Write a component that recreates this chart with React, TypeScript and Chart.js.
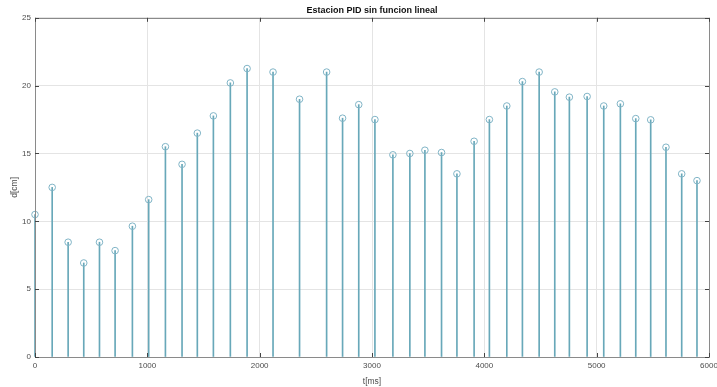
import React, { useEffect, useRef } from "react";
import { Chart, registerables } from "chart.js";

Chart.register(...registerables);

const times = [0, 153, 295, 434, 574, 713, 867, 1012, 1161, 1309, 1445, 1588, 1739, 1888, 2119, 2355, 2596, 2738, 2882, 3026, 3186, 3337, 3471, 3619, 3756, 3909, 4045, 4200, 4339, 4488, 4627, 4757, 4915, 5063, 5211, 5348, 5481, 5617, 5757, 5893];
const distances = [10.5, 12.5, 8.46, 6.93, 8.46, 7.84, 9.64, 11.6, 15.5, 14.2, 16.5, 17.77, 20.2, 21.26, 21.0, 19.0, 21.0, 17.6, 18.6, 17.5, 14.9, 15.0, 15.24, 15.07, 13.5, 15.9, 17.5, 18.5, 20.3, 21.0, 19.54, 19.15, 19.2, 18.5, 18.66, 17.57, 17.48, 15.46, 13.5, 13.0];
const titleText = "Estacion PID sin funcion lineal";
const xLabel = "t[ms]";
const yLabel = "d[cm]";

const framePlugin = {
  id: "frame",
  afterDraw(chart: any) {
    const { ctx, chartArea: a, scales } = chart;
    ctx.save();
    ctx.strokeStyle = "#8a8a8a";
    ctx.lineWidth = 1;
    ctx.strokeRect(Math.round(a.left) + 0.5, Math.round(a.top) + 0.5, Math.round(a.right - a.left), Math.round(a.bottom - a.top));
    ctx.strokeStyle = "#444";
    const tl = 4;
    ctx.beginPath();
    scales.x.ticks.forEach((t: any) => {
      const px = Math.round(scales.x.getPixelForValue(t.value)) + 0.5;
      ctx.moveTo(px, a.bottom);
      ctx.lineTo(px, a.bottom - tl);
      ctx.moveTo(px, a.top);
      ctx.lineTo(px, a.top + tl);
    });
    scales.y.ticks.forEach((t: any) => {
      const py = Math.round(scales.y.getPixelForValue(t.value)) + 0.5;
      ctx.moveTo(a.left, py);
      ctx.lineTo(a.left + tl, py);
      ctx.moveTo(a.right, py);
      ctx.lineTo(a.right - tl, py);
    });
    ctx.stroke();
    ctx.restore();
  },
};

export default function App() {
  const ref = useRef<HTMLCanvasElement | null>(null);
  useEffect(() => {
    document.body.style.margin = "0";
    const pts = times.map((t, i) => ({ x: t, y: distances[i] }));
    const chart = new Chart(ref.current as HTMLCanvasElement, {
      type: "bar",
      data: {
        datasets: [
          {
            type: "bar",
            data: pts,
            backgroundColor: "#68a8b9",
            borderWidth: 0,
            barThickness: 1,
            clip: false,
            order: 2,
          } as any,
          {
            type: "scatter",
            data: pts,
            pointStyle: "circle",
            pointRadius: 3.3,
            pointBorderWidth: 1,
            pointBorderColor: "#80b4c6",
            pointBackgroundColor: "rgba(255,255,255,0)",
            clip: false,
            order: 1,
          } as any,
        ],
      },
      options: {
        animation: false,
        responsive: false,
        maintainAspectRatio: false,
        layout: { padding: { left: 0, right: 8, top: 0, bottom: 0 } },
        plugins: {
          legend: { display: false },
          tooltip: { enabled: false },
          title: {
            display: true,
            text: titleText,
            fullSize: false,
            color: "#111",
            font: { family: "Liberation Sans", size: 9, weight: "bold" },
            padding: { top: 5, bottom: 2 },
          },
        },
        scales: {
          x: {
            type: "linear",
            min: 0,
            max: 6000,
            offset: false,
            afterFit(s: any) {
              s.height = 30;
              s.paddingLeft = 0;
              s.paddingRight = 0;
            },
            ticks: {
              stepSize: 1000,
              maxRotation: 0,
              autoSkip: false,
              padding: 4,
              color: "#4d4d4d",
              font: { family: "Liberation Sans", size: 8 },
              callback: (v: any) => String(v),
            },
            grid: { color: "#e4e4e4", drawTicks: false, offset: false },
            border: { display: false },
            title: {
              display: true,
              text: xLabel,
              color: "#4d4d4d",
              font: { family: "Liberation Sans", size: 8.5 },
              padding: { top: 3, bottom: 0 },
            },
          },
          y: {
            min: 0,
            max: 25,
            afterFit(s: any) {
              s.width = 35;
            },
            ticks: {
              stepSize: 5,
              padding: 4,
              color: "#4d4d4d",
              font: { family: "Liberation Sans", size: 8 },
              callback: (v: any) => String(v),
            },
            grid: { color: "#e4e4e4", drawTicks: false },
            border: { display: false },
            title: {
              display: true,
              text: yLabel,
              color: "#4d4d4d",
              font: { family: "Liberation Sans", size: 8.5 },
              padding: { top: 10, bottom: 0 },
            },
          },
        },
      },
      plugins: [framePlugin],
    });
    return () => chart.destroy();
  }, []);
  return <canvas ref={ref} width={717} height={387} style={{ display: "block" }} />;
}
